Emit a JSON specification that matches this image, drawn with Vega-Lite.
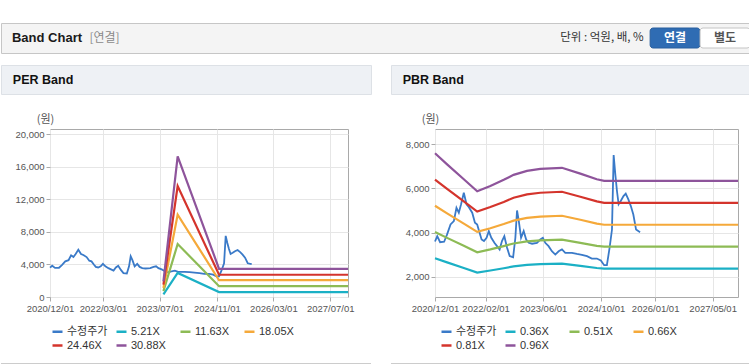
{
  "$schema": "https://vega.github.io/schema/vega-lite/v6.json",
  "padding": {"top": 22, "left": 0, "right": 0, "bottom": 0},
  "background": "white",
  "bounds": "flush",
  "spacing": 12,
  "config": {
    "font": "Liberation Sans, Noto Sans CJK KR, sans-serif",
    "view": {"stroke": null},
    "axis": {
      "labelFont": "Liberation Sans, sans-serif",
      "labelFontSize": 9.5,
      "labelColor": "#555555",
      "tickColor": "#aaaaaa",
      "tickSize": 4,
      "gridColor": "#e6e6e6",
      "domain": false,
      "labelPadding": 2,
      "titleFont": "Noto Sans CJK KR, sans-serif",
      "titleFontWeight": "normal",
      "titleFontSize": 11,
      "titleColor": "#555555"
    },
    "legend": {
      "labelFont": "Liberation Sans, Noto Sans CJK KR, sans-serif"
    }
  },
  "datasets": {
    "price": [
      {"d": "2020-12-01", "v": 3600}, {"d": "2020-12-20", "v": 3840}, {"d": "2021-01-13", "v": 3570},
      {"d": "2021-02-16", "v": 3590}, {"d": "2021-03-13", "v": 3920}, {"d": "2021-04-11", "v": 4370},
      {"d": "2021-05-09", "v": 4520}, {"d": "2021-05-31", "v": 5120}, {"d": "2021-06-20", "v": 4900},
      {"d": "2021-07-09", "v": 5280}, {"d": "2021-08-01", "v": 5800}, {"d": "2021-08-24", "v": 5280},
      {"d": "2021-09-13", "v": 5150}, {"d": "2021-10-11", "v": 4900}, {"d": "2021-11-03", "v": 4450},
      {"d": "2021-11-22", "v": 4370}, {"d": "2021-12-12", "v": 3990}, {"d": "2021-12-29", "v": 3690},
      {"d": "2022-01-18", "v": 3620}, {"d": "2022-02-09", "v": 3770}, {"d": "2022-02-28", "v": 4070},
      {"d": "2022-03-21", "v": 3770}, {"d": "2022-04-16", "v": 3540}, {"d": "2022-05-08", "v": 3390},
      {"d": "2022-05-30", "v": 3240}, {"d": "2022-06-19", "v": 3620}, {"d": "2022-07-09", "v": 3840},
      {"d": "2022-08-01", "v": 3320}, {"d": "2022-08-23", "v": 2940}, {"d": "2022-09-21", "v": 2890},
      {"d": "2022-10-10", "v": 3770}, {"d": "2022-10-24", "v": 5000}, {"d": "2022-11-08", "v": 4520},
      {"d": "2022-11-27", "v": 3770}, {"d": "2022-12-19", "v": 4070}, {"d": "2023-01-09", "v": 3690},
      {"d": "2023-01-31", "v": 3540}, {"d": "2023-02-28", "v": 3500}, {"d": "2023-04-10", "v": 3540},
      {"d": "2023-05-08", "v": 3690}, {"d": "2023-05-30", "v": 3770}, {"d": "2023-06-19", "v": 3540},
      {"d": "2023-07-17", "v": 3390}, {"d": "2023-08-14", "v": 3160}, {"d": "2023-09-12", "v": 3010},
      {"d": "2023-10-10", "v": 3160}, {"d": "2023-11-07", "v": 3240}, {"d": "2023-12-05", "v": 3090},
      {"d": "2024-01-30", "v": 3090}, {"d": "2024-03-12", "v": 3040}, {"d": "2024-04-23", "v": 3000},
      {"d": "2024-06-05", "v": 2940}, {"d": "2024-07-16", "v": 2830}, {"d": "2024-08-27", "v": 2830},
      {"d": "2024-09-30", "v": 2740}, {"d": "2024-10-28", "v": 2530}, {"d": "2024-11-20", "v": 2530},
      {"d": "2024-12-13", "v": 3320}, {"d": "2025-01-02", "v": 4140}, {"d": "2025-01-16", "v": 7500},
      {"d": "2025-01-30", "v": 6630}, {"d": "2025-02-13", "v": 5880}, {"d": "2025-02-27", "v": 5280},
      {"d": "2025-03-17", "v": 5430}, {"d": "2025-04-09", "v": 5650}, {"d": "2025-04-28", "v": 5760},
      {"d": "2025-05-20", "v": 5500}, {"d": "2025-06-10", "v": 5200}, {"d": "2025-07-01", "v": 4820},
      {"d": "2025-07-24", "v": 4140}, {"d": "2025-08-27", "v": 4020}
    ],
    "perBands": [
      {"d": "2023-08-01", "s": "5.21X", "v": 320}, {"d": "2023-12-01", "s": "5.21X", "v": 2950},
      {"d": "2024-11-20", "s": "5.21X", "v": 600}, {"d": "2027-12-01", "s": "5.21X", "v": 600},
      {"d": "2023-08-01", "s": "11.63X", "v": 720}, {"d": "2023-12-01", "s": "11.63X", "v": 6500},
      {"d": "2024-11-20", "s": "11.63X", "v": 1330}, {"d": "2027-12-01", "s": "11.63X", "v": 1330},
      {"d": "2023-08-01", "s": "18.05X", "v": 1110}, {"d": "2023-12-01", "s": "18.05X", "v": 10110},
      {"d": "2024-11-20", "s": "18.05X", "v": 2060}, {"d": "2027-12-01", "s": "18.05X", "v": 2060},
      {"d": "2023-08-01", "s": "24.46X", "v": 1520}, {"d": "2023-12-01", "s": "24.46X", "v": 13620},
      {"d": "2024-11-20", "s": "24.46X", "v": 2730}, {"d": "2027-12-01", "s": "24.46X", "v": 2730},
      {"d": "2023-08-01", "s": "30.88X", "v": 1920}, {"d": "2023-12-01", "s": "30.88X", "v": 17260},
      {"d": "2024-11-20", "s": "30.88X", "v": 3460}, {"d": "2027-12-01", "s": "30.88X", "v": 3460}
    ],
    "pbrBands": [
      {"d": "2020-12-01", "s": "0.36X", "v": 2844}, {"d": "2021-03-13", "s": "0.36X", "v": 2657},
      {"d": "2021-08-01", "s": "0.36X", "v": 2403}, {"d": "2021-11-22", "s": "0.36X", "v": 2200},
      {"d": "2022-03-13", "s": "0.36X", "v": 2291}, {"d": "2022-07-04", "s": "0.36X", "v": 2394},
      {"d": "2022-09-25", "s": "0.36X", "v": 2478}, {"d": "2023-01-16", "s": "0.36X", "v": 2546},
      {"d": "2023-05-08", "s": "0.36X", "v": 2578}, {"d": "2023-11-07", "s": "0.36X", "v": 2598},
      {"d": "2024-04-10", "s": "0.36X", "v": 2499}, {"d": "2024-08-27", "s": "0.36X", "v": 2404},
      {"d": "2024-10-28", "s": "0.36X", "v": 2376}, {"d": "2027-12-01", "s": "0.36X", "v": 2376},
      {"d": "2020-12-01", "s": "0.51X", "v": 4029}, {"d": "2021-03-13", "s": "0.51X", "v": 3764},
      {"d": "2021-08-01", "s": "0.51X", "v": 3405}, {"d": "2021-11-22", "s": "0.51X", "v": 3116},
      {"d": "2022-03-13", "s": "0.51X", "v": 3245}, {"d": "2022-07-04", "s": "0.51X", "v": 3392},
      {"d": "2022-09-25", "s": "0.51X", "v": 3510}, {"d": "2023-01-16", "s": "0.51X", "v": 3607},
      {"d": "2023-05-08", "s": "0.51X", "v": 3653}, {"d": "2023-11-07", "s": "0.51X", "v": 3681},
      {"d": "2024-04-10", "s": "0.51X", "v": 3540}, {"d": "2024-08-27", "s": "0.51X", "v": 3406},
      {"d": "2024-10-28", "s": "0.51X", "v": 3366}, {"d": "2027-12-01", "s": "0.51X", "v": 3366},
      {"d": "2020-12-01", "s": "0.66X", "v": 5214}, {"d": "2021-03-13", "s": "0.66X", "v": 4871},
      {"d": "2021-08-01", "s": "0.66X", "v": 4406}, {"d": "2021-11-22", "s": "0.66X", "v": 4033},
      {"d": "2022-03-13", "s": "0.66X", "v": 4200}, {"d": "2022-07-04", "s": "0.66X", "v": 4389},
      {"d": "2022-09-25", "s": "0.66X", "v": 4543}, {"d": "2023-01-16", "s": "0.66X", "v": 4668},
      {"d": "2023-05-08", "s": "0.66X", "v": 4727}, {"d": "2023-11-07", "s": "0.66X", "v": 4763},
      {"d": "2024-04-10", "s": "0.66X", "v": 4582}, {"d": "2024-08-27", "s": "0.66X", "v": 4408},
      {"d": "2024-10-28", "s": "0.66X", "v": 4356}, {"d": "2027-12-01", "s": "0.66X", "v": 4356},
      {"d": "2020-12-01", "s": "0.81X", "v": 6399}, {"d": "2021-03-13", "s": "0.81X", "v": 5978},
      {"d": "2021-08-01", "s": "0.81X", "v": 5408}, {"d": "2021-11-22", "s": "0.81X", "v": 4949},
      {"d": "2022-03-13", "s": "0.81X", "v": 5154}, {"d": "2022-07-04", "s": "0.81X", "v": 5387},
      {"d": "2022-09-25", "s": "0.81X", "v": 5575}, {"d": "2023-01-16", "s": "0.81X", "v": 5728},
      {"d": "2023-05-08", "s": "0.81X", "v": 5801}, {"d": "2023-11-07", "s": "0.81X", "v": 5846},
      {"d": "2024-04-10", "s": "0.81X", "v": 5623}, {"d": "2024-08-27", "s": "0.81X", "v": 5410},
      {"d": "2024-10-28", "s": "0.81X", "v": 5346}, {"d": "2027-12-01", "s": "0.81X", "v": 5346},
      {"d": "2020-12-01", "s": "0.96X", "v": 7584}, {"d": "2021-03-13", "s": "0.96X", "v": 7085},
      {"d": "2021-08-01", "s": "0.96X", "v": 6409}, {"d": "2021-11-22", "s": "0.96X", "v": 5866},
      {"d": "2022-03-13", "s": "0.96X", "v": 6108}, {"d": "2022-07-04", "s": "0.96X", "v": 6384},
      {"d": "2022-09-25", "s": "0.96X", "v": 6608}, {"d": "2023-01-16", "s": "0.96X", "v": 6789},
      {"d": "2023-05-08", "s": "0.96X", "v": 6876}, {"d": "2023-11-07", "s": "0.96X", "v": 6928},
      {"d": "2024-04-10", "s": "0.96X", "v": 6664}, {"d": "2024-08-27", "s": "0.96X", "v": 6412},
      {"d": "2024-10-28", "s": "0.96X", "v": 6336}, {"d": "2027-12-01", "s": "0.96X", "v": 6336}
    ]
  },
  "vconcat": [
    {
      "width": 749,
      "height": 30,
      "view": {"fill": "#f4f4f4", "stroke": "#c6c6c6"},
      "layer": [
        {
          "data": {"values": [{"label": "연결"}, {"label": "별도"}]},
          "mark": {"type": "rect", "cornerRadius": 3, "strokeWidth": 1},
          "encoding": {
            "x": {"field": "label", "type": "nominal", "axis": null,
              "scale": {"type": "band", "paddingInner": 0, "paddingOuter": 0,
                "domain": ["Band Chart", "[연결]", "f2", "f3", "f4", "f5", "f6", "f7", "f8", "f9", "f10", "f11", "단위 : 억원, 배, %", "연결", "별도"]}},
            "y": {"datum": "btn", "type": "nominal", "axis": null,
              "scale": {"type": "band", "paddingInner": 0, "paddingOuter": 0.25}},
            "fill": {"field": "label", "type": "nominal", "legend": null,
              "scale": {"domain": ["연결", "별도"], "range": ["#2f6cb3", "#ffffff"]}},
            "stroke": {"field": "label", "type": "nominal", "legend": null,
              "scale": {"domain": ["연결", "별도"], "range": ["#285e9e", "#c4c4c4"]}}
          }
        },
        {
          "data": {"values": [{"label": "Band Chart"}]},
          "mark": {"type": "text", "align": "left", "baseline": "middle", "fontSize": 13, "fontWeight": "bold", "color": "#1a1a1a", "font": "Liberation Sans, sans-serif"},
          "encoding": {"x": {"field": "label", "type": "nominal", "axis": null, "bandPosition": 0.22}, "text": {"field": "label"}}
        },
        {
          "data": {"values": [{"label": "[연결]"}]},
          "mark": {"type": "text", "align": "left", "baseline": "middle", "fontSize": 12, "color": "#8a8a8a", "font": "Noto Sans CJK KR, sans-serif"},
          "encoding": {"x": {"field": "label", "type": "nominal", "axis": null, "bandPosition": 0.772}, "text": {"field": "label"}}
        },
        {
          "data": {"values": [{"label": "단위 : 억원, 배, %"}]},
          "mark": {"type": "text", "align": "right", "baseline": "middle", "fontSize": 11.5, "color": "#333333", "font": "Noto Sans CJK KR, sans-serif"},
          "encoding": {"x": {"field": "label", "type": "nominal", "axis": null, "bandPosition": 0.87}, "text": {"field": "label"}}
        },
        {
          "data": {"values": [{"label": "연결"}]},
          "mark": {"type": "text", "align": "center", "baseline": "middle", "fontSize": 12, "fontWeight": "bold", "color": "#ffffff", "font": "Noto Sans CJK KR, sans-serif"},
          "encoding": {"x": {"field": "label", "type": "nominal", "axis": null, "bandPosition": 0.5}, "text": {"field": "label"}}
        },
        {
          "data": {"values": [{"label": "별도"}]},
          "mark": {"type": "text", "align": "center", "baseline": "middle", "fontSize": 12, "fontWeight": "bold", "color": "#555555", "font": "Noto Sans CJK KR, sans-serif"},
          "encoding": {"x": {"field": "label", "type": "nominal", "axis": null, "bandPosition": 0.5}, "text": {"field": "label"}}
        }
      ]
    },
    {
      "bounds": "flush",
      "spacing": 298,
      "vconcat": [
        {
          "bounds": "flush",
          "spacing": 64,
          "vconcat": [
            {
              "bounds": "flush",
              "spacing": 20,
              "hconcat": [
                {
                  "width": 370, "height": 29,
                  "view": {"fill": "#eef1f5", "stroke": "#dde1e6"},
                  "data": {"values": [{"label": "PER Band"}]},
                  "mark": {"type": "text", "align": "left", "baseline": "middle", "fontSize": 12.5, "fontWeight": "bold", "color": "#111111", "font": "Liberation Sans, sans-serif"},
                  "encoding": {
                    "x": {"field": "label", "type": "nominal", "axis": null, "bandPosition": 0.032, "scale": {"type": "band", "paddingInner": 0, "paddingOuter": 0}},
                    "text": {"field": "label"}
                  }
                },
                {
                  "width": 359, "height": 29,
                  "view": {"fill": "#eef1f5", "stroke": "#dde1e6"},
                  "data": {"values": [{"label": "PBR Band"}]},
                  "mark": {"type": "text", "align": "left", "baseline": "middle", "fontSize": 12.5, "fontWeight": "bold", "color": "#111111", "font": "Liberation Sans, sans-serif"},
                  "encoding": {
                    "x": {"field": "label", "type": "nominal", "axis": null, "bandPosition": 0.0326, "scale": {"type": "band", "paddingInner": 0, "paddingOuter": 0}},
                    "text": {"field": "label"}
                  }
                }
              ]
            },
            {
              "bounds": "flush",
              "spacing": 0,
              "resolve": {"scale": {"color": "independent", "y": "independent", "x": "independent"}, "legend": {"color": "independent"}},
              "hconcat": [
                {
                  "width": 49, "height": 168,
                  "view": {"stroke": null, "fill": null},
                  "data": {"values": []},
                  "mark": {"type": "point"}
                },
                {
                  "width": 298, "height": 168,
                  "view": {"fill": "#ffffff", "stroke": "#a9a9a9"},
                  "encoding": {
                    "x": {"field": "d", "type": "temporal",
                      "scale": {"type": "utc", "domain": [{"year": 2020, "month": 12, "date": 1, "utc": true}, {"year": 2027, "month": 12, "date": 1, "utc": true}]},
                      "axis": {"title": null, "format": "%Y/%m/%d", "labelFlush": false, "labelOverlap": false, "grid": true,
                        "values": [{"year": 2020, "month": 12, "date": 1, "utc": true}, {"year": 2022, "month": 3, "date": 1, "utc": true}, {"year": 2023, "month": 7, "date": 1, "utc": true}, {"year": 2024, "month": 11, "date": 1, "utc": true}, {"year": 2026, "month": 3, "date": 1, "utc": true}, {"year": 2027, "month": 7, "date": 1, "utc": true}]}},
                    "y": {"field": "v", "type": "quantitative",
                      "scale": {"domain": [0, 20615], "nice": false, "zero": false},
                      "axis": {"values": [0, 4000, 8000, 12000, 16000, 20000], "format": ",.0f", "grid": true,
                        "title": "(원)", "titleAngle": 0, "titleX": -5, "titleY": -10, "titleAlign": "center", "titleBaseline": "middle"}}
                  },
                  "layer": [
                    {
                      "data": {"name": "price"},
                      "mark": {"type": "line", "strokeWidth": 1.8},
                      "encoding": {
                        "color": {"datum": "수정주가", "type": "nominal",
                          "scale": {"domain": ["수정주가", "5.21X", "11.63X", "18.05X", "24.46X", "30.88X"], "range": ["#3a7ac8", "#1bb0c5", "#8dbb55", "#f5a93a", "#d4342c", "#8e549b"]},
                          "legend": {"orient": "none", "legendX": 1, "legendY": 196, "direction": "horizontal", "columns": 4, "gridAlign": "all", "title": null,
                            "symbolType": "stroke", "symbolSize": 100, "symbolStrokeWidth": 2.5, "labelFontSize": 11, "labelColor": "#333333", "labelOffset": 3, "columnPadding": 3, "rowPadding": 2}}
                      }
                    },
                    {
                      "data": {"name": "perBands"},
                      "mark": {"type": "line", "strokeWidth": 2.2},
                      "encoding": {
                        "color": {"field": "s", "type": "nominal",
                          "scale": {"domain": ["수정주가", "5.21X", "11.63X", "18.05X", "24.46X", "30.88X"], "range": ["#3a7ac8", "#1bb0c5", "#8dbb55", "#f5a93a", "#d4342c", "#8e549b"]},
                          "legend": {"orient": "none", "legendX": 1, "legendY": 196, "direction": "horizontal", "columns": 4, "gridAlign": "all", "title": null,
                            "symbolType": "stroke", "symbolSize": 100, "symbolStrokeWidth": 2.5, "labelFontSize": 11, "labelColor": "#333333", "labelOffset": 3, "columnPadding": 3, "rowPadding": 2}}
                      }
                    }
                  ]
                },
                {
                  "width": 87, "height": 168,
                  "view": {"stroke": null, "fill": null},
                  "data": {"values": []},
                  "mark": {"type": "point"}
                },
                {
                  "width": 303, "height": 168,
                  "view": {"fill": "#ffffff", "stroke": "#a9a9a9"},
                  "encoding": {
                    "x": {"field": "d", "type": "temporal",
                      "scale": {"type": "utc", "domain": [{"year": 2020, "month": 12, "date": 1, "utc": true}, {"year": 2027, "month": 12, "date": 1, "utc": true}]},
                      "axis": {"title": null, "format": "%Y/%m/%d", "labelFlush": false, "labelOverlap": false, "grid": true,
                        "values": [{"year": 2020, "month": 12, "date": 1, "utc": true}, {"year": 2022, "month": 2, "date": 1, "utc": true}, {"year": 2023, "month": 6, "date": 1, "utc": true}, {"year": 2024, "month": 10, "date": 1, "utc": true}, {"year": 2026, "month": 1, "date": 1, "utc": true}, {"year": 2027, "month": 5, "date": 1, "utc": true}]}},
                    "y": {"field": "v", "type": "quantitative",
                      "scale": {"domain": [1094, 8680], "nice": false, "zero": false},
                      "axis": {"values": [2000, 4000, 6000, 8000], "format": ",.0f", "grid": true,
                        "title": "(원)", "titleAngle": 0, "titleX": -5, "titleY": -10, "titleAlign": "center", "titleBaseline": "middle"}}
                  },
                  "layer": [
                    {
                      "data": {"name": "price"},
                      "mark": {"type": "line", "strokeWidth": 1.8},
                      "encoding": {
                        "color": {"datum": "수정주가", "type": "nominal",
                          "scale": {"domain": ["수정주가", "0.36X", "0.51X", "0.66X", "0.81X", "0.96X"], "range": ["#3a7ac8", "#1bb0c5", "#8dbb55", "#f5a93a", "#d4342c", "#8e549b"]},
                          "legend": {"orient": "none", "legendX": 5, "legendY": 196, "direction": "horizontal", "columns": 4, "gridAlign": "all", "title": null,
                            "symbolType": "stroke", "symbolSize": 100, "symbolStrokeWidth": 2.5, "labelFontSize": 11, "labelColor": "#333333", "labelOffset": 3, "columnPadding": 3, "rowPadding": 2}}
                      }
                    },
                    {
                      "data": {"name": "pbrBands"},
                      "mark": {"type": "line", "strokeWidth": 2.2},
                      "encoding": {
                        "color": {"field": "s", "type": "nominal",
                          "scale": {"domain": ["수정주가", "0.36X", "0.51X", "0.66X", "0.81X", "0.96X"], "range": ["#3a7ac8", "#1bb0c5", "#8dbb55", "#f5a93a", "#d4342c", "#8e549b"]},
                          "legend": {"orient": "none", "legendX": 5, "legendY": 196, "direction": "horizontal", "columns": 4, "gridAlign": "all", "title": null,
                            "symbolType": "stroke", "symbolSize": 100, "symbolStrokeWidth": 2.5, "labelFontSize": 11, "labelColor": "#333333", "labelOffset": 3, "columnPadding": 3, "rowPadding": 2}}
                      }
                    }
                  ]
                }
              ]
            }
          ]
        },
        {
          "bounds": "flush",
          "spacing": 20,
          "hconcat": [
            {"width": 370, "height": 1, "view": {"fill": "#cccccc", "stroke": null}, "data": {"values": []}, "mark": {"type": "point"}},
            {"width": 359, "height": 1, "view": {"fill": "#cccccc", "stroke": null}, "data": {"values": []}, "mark": {"type": "point"}}
          ]
        }
      ]
    }
  ]
}
